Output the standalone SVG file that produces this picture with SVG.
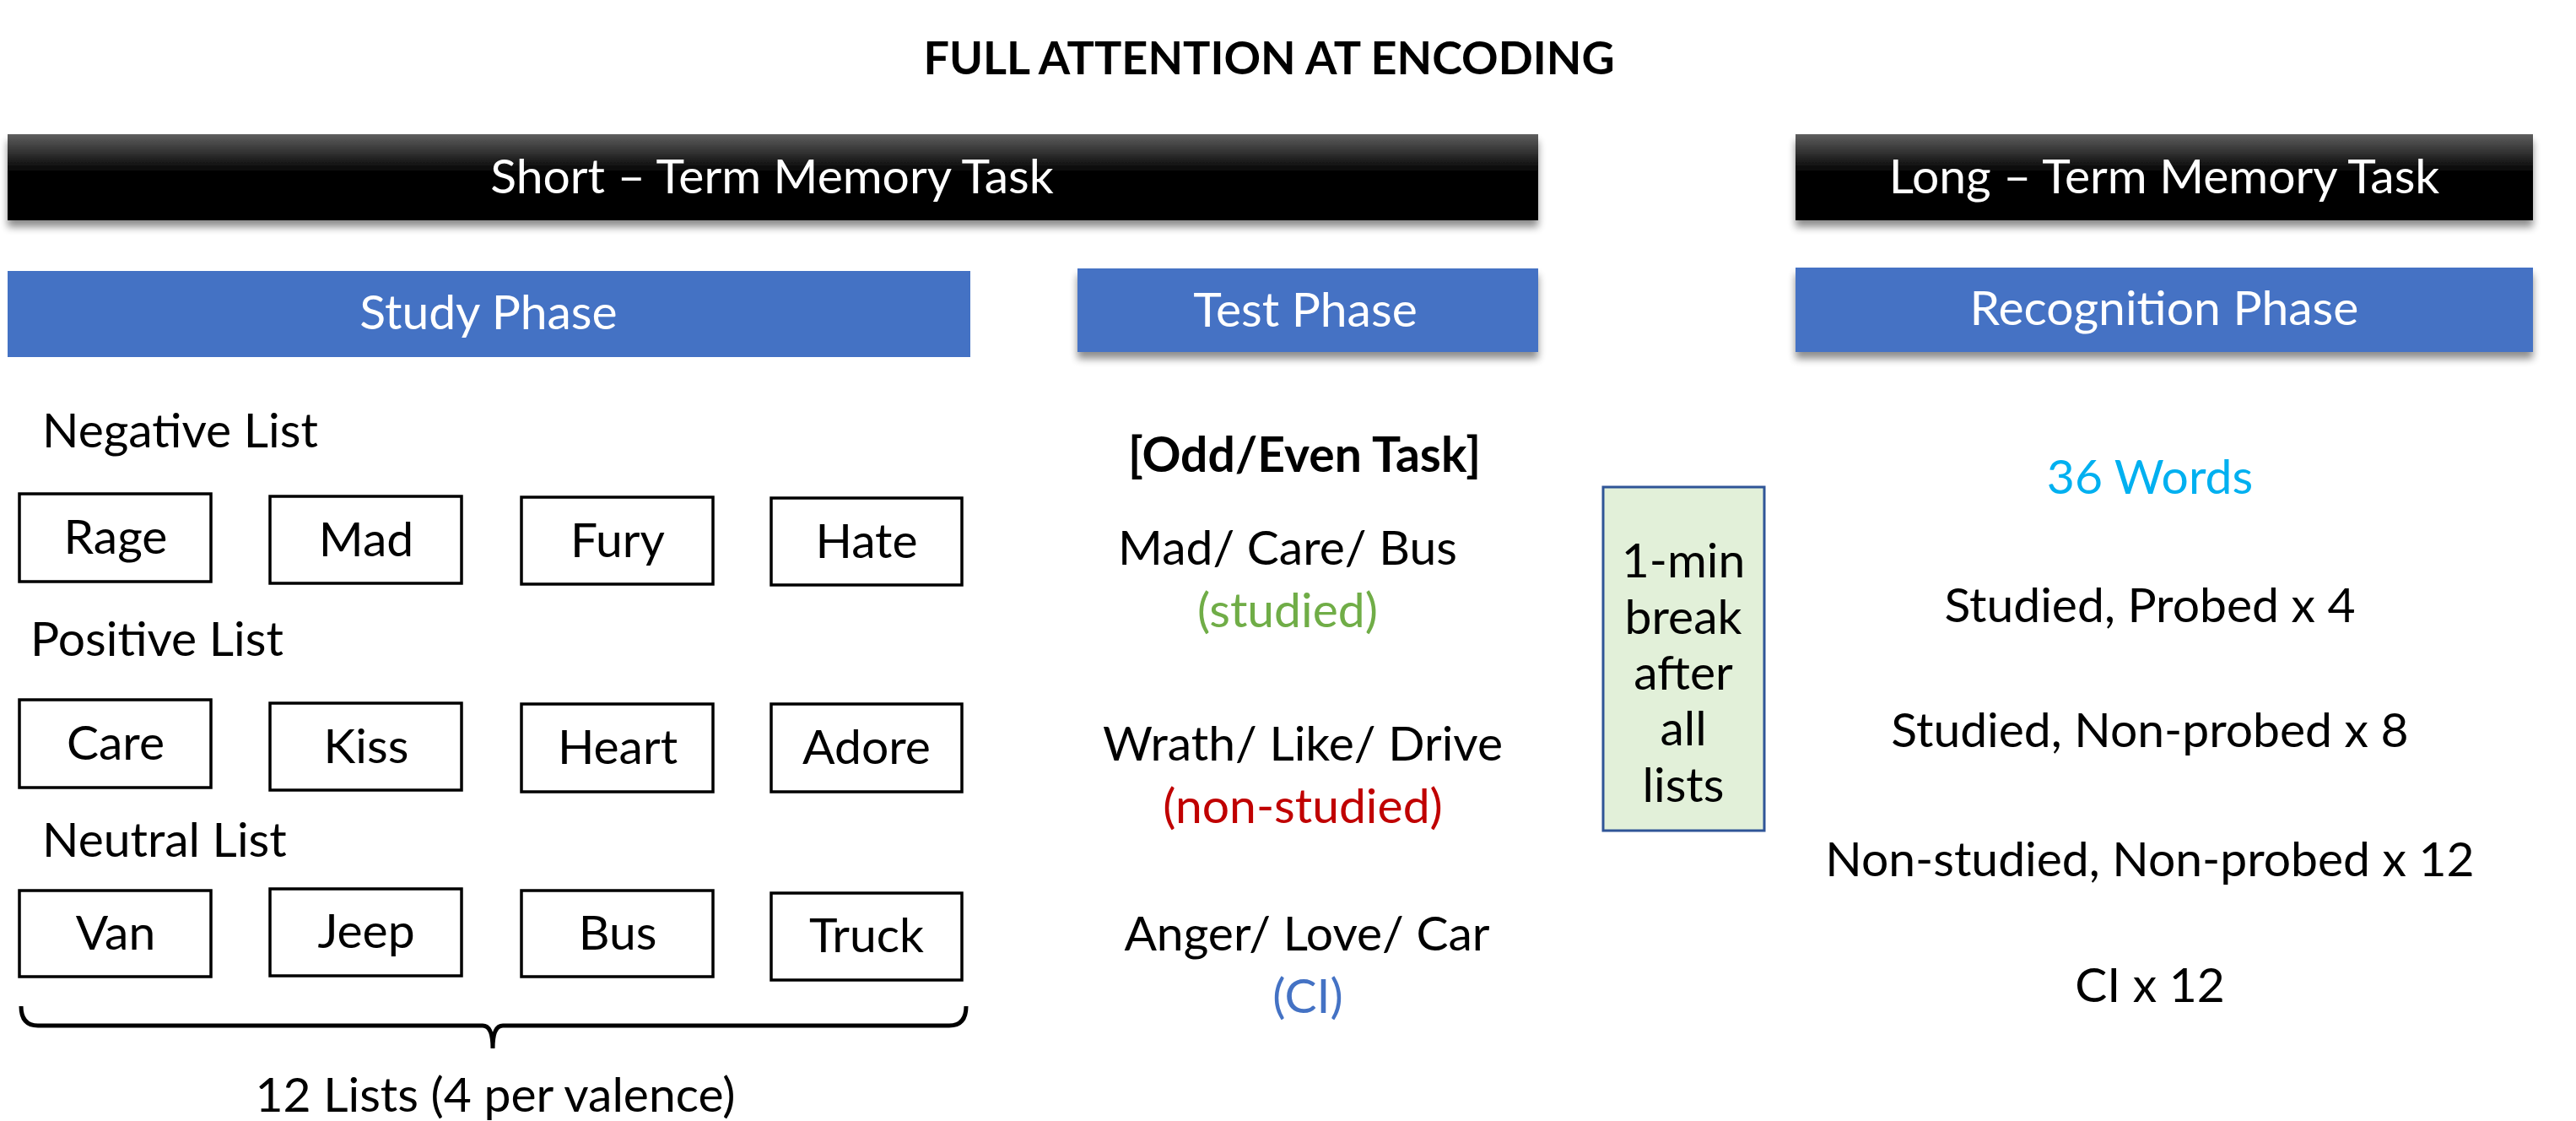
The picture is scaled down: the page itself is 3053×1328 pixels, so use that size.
<svg xmlns="http://www.w3.org/2000/svg" width="3053" height="1328" viewBox="0 0 3053 1328">
<defs>
<linearGradient id="blackGrad" x1="0" y1="0" x2="0" y2="1">
<stop offset="0" stop-color="#5e5e5e"/>
<stop offset="0.45" stop-color="#000000"/>
<stop offset="1" stop-color="#000000"/>
</linearGradient>
<filter id="shadow" x="-5%" y="-20%" width="110%" height="160%">
<feGaussianBlur in="SourceAlpha" stdDeviation="5"/>
<feOffset dx="0" dy="8" result="b"/>
<feComponentTransfer><feFuncA type="linear" slope="0.45"/></feComponentTransfer>
<feMerge><feMergeNode/><feMergeNode in="SourceGraphic"/></feMerge>
</filter>
</defs>
<style>
text{font-family:Lato,"Open Sans","Liberation Sans",sans-serif;font-size:57px;fill:#000;text-anchor:middle}
.title{font-weight:bold}
.head{font-size:54px}
.bar{fill:url(#blackGrad)}
.phase{fill:#4472C4}
.white{fill:#ffffff}
.word{fill:#ffffff;stroke:#000;stroke-width:3.5}
.lbl{text-anchor:start}
.brace{fill:none;stroke:#000;stroke-width:5}
</style>
<rect width="3053" height="1328" fill="#ffffff"/>

<g id="title"><text class="title head" x="1504" y="88">FULL ATTENTION AT ENCODING</text></g>

<g id="stm-bar"><rect class="bar" x="9" y="159" width="1814" height="102" filter="url(#shadow)"/><text class="white" x="915" y="229">Short – Term Memory Task</text></g>
<g id="ltm-bar"><rect class="bar" x="2128" y="159" width="874" height="102" filter="url(#shadow)"/><text class="white" x="2565" y="229">Long – Term Memory Task</text></g>

<g id="study-phase"><rect class="phase" x="9" y="321" width="1141" height="102"/><text class="white" x="579" y="390">Study Phase</text></g>
<g id="test-phase"><rect class="phase" x="1277" y="318" width="546" height="99" filter="url(#shadow)"/><text class="white" x="1547" y="387">Test Phase</text></g>
<g id="recognition-phase"><rect class="phase" x="2128" y="317" width="874" height="100" filter="url(#shadow)"/><text class="white" x="2565" y="385">Recognition Phase</text></g>

<g id="negative-list"><text class="lbl" x="50" y="530">Negative List</text></g>
<g id="w-rage"><rect class="word" x="23" y="585" width="227" height="104"/><text x="137" y="656">Rage</text></g>
<g id="w-mad"><rect class="word" x="320" y="588" width="227" height="103"/><text x="434" y="659">Mad</text></g>
<g id="w-fury"><rect class="word" x="618" y="589" width="227" height="103"/><text x="732" y="660">Fury</text></g>
<g id="w-hate"><rect class="word" x="914" y="590" width="226" height="103"/><text x="1027" y="661">Hate</text></g>

<g id="positive-list"><text class="lbl" x="36" y="777">Positive List</text></g>
<g id="w-care"><rect class="word" x="23" y="829" width="227" height="104"/><text x="137" y="900">Care</text></g>
<g id="w-kiss"><rect class="word" x="320" y="833" width="227" height="103"/><text x="434" y="904">Kiss</text></g>
<g id="w-heart"><rect class="word" x="618" y="834" width="227" height="104"/><text x="732" y="905">Heart</text></g>
<g id="w-adore"><rect class="word" x="914" y="834" width="226" height="104"/><text x="1027" y="905">Adore</text></g>

<g id="neutral-list"><text class="lbl" x="50" y="1015">Neutral List</text></g>
<g id="w-van"><rect class="word" x="23" y="1055" width="227" height="102"/><text x="137" y="1125">Van</text></g>
<g id="w-jeep"><rect class="word" x="320" y="1053" width="227" height="103"/><text x="434" y="1123">Jeep</text></g>
<g id="w-bus"><rect class="word" x="618" y="1055" width="227" height="102"/><text x="732" y="1125">Bus</text></g>
<g id="w-truck"><rect class="word" x="914" y="1058" width="226" height="103"/><text x="1027" y="1128">Truck</text></g>

<g id="lists-count"><text x="587" y="1317">12 Lists (4 per valence)</text></g>

<g id="test-items">
<text class="title" x="1546" y="559">[Odd/Even Task]</text>
<text x="1526" y="669">Mad/ Care/ Bus</text>
<text x="1526" y="743" style="fill:#70AD47">(studied)</text>
<text x="1544" y="901">Wrath/ Like/ Drive</text>
<text x="1544" y="975" style="fill:#C00000">(non-studied)</text>
<text x="1549" y="1126">Anger/ Love/ Car</text>
<text x="1550" y="1200" style="fill:#4472C4">(CI)</text>
</g>

<g id="break-box"><rect x="1900" y="577" width="191" height="407" fill="#E2F0D9" stroke="#2F5597" stroke-width="3"/>
<text x="1995" y="684">1-min</text><text x="1995" y="751">break</text><text x="1995" y="817">after</text><text x="1995" y="883">all</text><text x="1995" y="950">lists</text></g>

<g id="recognition-items">
<text x="2548" y="585" style="fill:#00B0F0">36 Words</text>
<text x="2548" y="737">Studied, Probed x 4</text>
<text x="2548" y="885">Studied, Non-probed x 8</text>
<text x="2548" y="1038">Non-studied, Non-probed x 12</text>
<text x="2548" y="1187">CI x 12</text>
</g>

<g id="connectors">
<path class="brace" d="M25,1192 Q25,1215 45,1215 L572,1215 Q584,1215 584,1242 Q584,1215 596,1215 L1125,1215 Q1145,1215 1145,1192"/>
</g>
</svg>
